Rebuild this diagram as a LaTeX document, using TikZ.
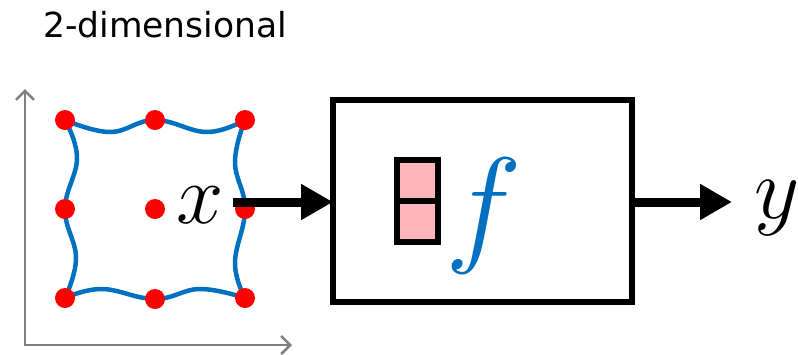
\RequirePackage{fix-cm}
\documentclass[tikz,border=0pt]{standalone}
\usepackage{fontspec}
\newfontfamily\labelfont{DejaVu Sans}
\usetikzlibrary{arrows.meta}
\definecolor{wblue}{HTML}{0070C0}
\definecolor{dotred}{HTML}{FF0000}
\definecolor{pinkfill}{HTML}{FFB6BA}
\definecolor{axisgray}{HTML}{808080}
\tikzset{
  dot/.style={circle, fill=dotred, minimum size=20pt, inner sep=0pt, outer sep=0pt},
  wave/.style={wblue, line width=4.5pt, line cap=round, line join=round},
  axis/.style={axisgray, line width=2.5pt, {Straight Barb[length=9pt,width=18pt]}-{Straight Barb[length=9pt,width=18pt]}},
  fbox/.style={draw=black, line width=6pt, minimum width=299pt, minimum height=202pt, inner sep=0pt, outer sep=0pt},
  cell/.style={draw=black, fill=pinkfill, line width=6pt, minimum width=41pt, minimum height=41pt, inner sep=0pt, outer sep=0pt},
  bigarrow/.style={line width=9pt, -{Triangle[length=32pt,width=34pt]}},
  mathlbl/.style={inner sep=0pt, anchor=base}
}
\begin{document}
\begin{tikzpicture}[x=1pt,y=-1pt]
\useasboundingbox (0,0) rectangle (798,354);
% title
\node[inner sep=0pt, anchor=base west, font=\labelfont\fontsize{34.5}{40}\selectfont] (title) at (43,37) {2-dimensional};
% axes
\coordinate (ytop) at (25,89);
\coordinate (org) at (25,345);
\coordinate (xright) at (292,345);
\draw[axis] (ytop) -- (org) -- (xright);
% wavy edges
\draw[wave] plot[smooth, tension=0.7] coordinates {(65,120) (110,132) (155,120) (207,132) (245,120)};
\draw[wave] plot[smooth, tension=0.7] coordinates {(65,120) (77,158) (65,209) (76,258) (65,298)};
\draw[wave] plot[smooth, tension=0.7] coordinates {(245,120) (235,162) (245,209) (235,263) (245,298)};
\draw[wave] plot[smooth, tension=0.7] coordinates {(65,298) (102,289) (155,299) (200,289) (245,298)};
% dots
\node[dot] (d11) at (65,120) {};
\node[dot] (d12) at (155,120) {};
\node[dot] (d13) at (245,120) {};
\node[dot] (d21) at (65,209) {};
\node[dot] (d22) at (155,209) {};
\node[dot] (d23) at (245,209) {};
\node[dot] (d31) at (65,298) {};
\node[dot] (d32) at (155,299) {};
\node[dot] (d33) at (245,298) {};
% x label
\node[mathlbl, font=\fontsize{85}{90}\selectfont] (xl) at (200,223) {$x$};
% function box
\node[fbox] (F) at (482.5,201) {};
\node[cell] (c1) at (417.5,180.5) {};
\node[cell] (c2) at (417.5,221.5) {};
\node[mathlbl, font=\fontsize{130}{130}\selectfont, text=wblue] (fl) at (484,248) {$f$};
% y label
\node[mathlbl, font=\fontsize{88}{90}\selectfont] (yl) at (777,218) {$y$};
% arrows
\coordinate (xs) at (233,202);
\coordinate (ye) at (732,202);
\draw[bigarrow] (xs) -- (F.west |- xs);
\draw[bigarrow] (F.east |- ye) -- (ye);
\end{tikzpicture}
\end{document}
